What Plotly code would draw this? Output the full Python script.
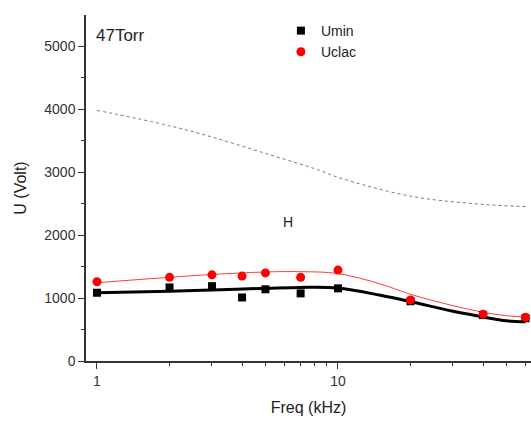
import plotly.graph_objects as go
import numpy as np

# Measured data
freq = [1, 2, 3, 4, 5, 7, 10, 20, 40, 60]
umin = [1085, 1170, 1190, 1010, 1140, 1075, 1155, 950, 730, 680]
uclac = [1260, 1330, 1370, 1350, 1400, 1330, 1445, 970, 745, 695]

# Fitted curves
fit_freq = [1, 2, 3, 5, 7, 10, 15, 20, 30, 40, 50, 60]
umin_fit = [1085, 1110, 1130, 1155, 1170, 1160, 1045, 945, 790, 700, 640, 625]
uclac_fit = [1245, 1330, 1375, 1415, 1420, 1390, 1225, 1060, 880, 775, 720, 700]

# Dotted reference curve
ref_freq = [1, 2, 3, 5, 8.4, 10, 20, 40, 60]
ref_u = [3985, 3740, 3560, 3300, 3030, 2920, 2620, 2490, 2455]

font = "Arial, Liberation Sans, sans-serif"

fig = go.Figure()
fig.add_trace(go.Scatter(x=ref_freq, y=ref_u, mode="lines", line=dict(color="#777777", width=1, dash="dot", shape="spline"), showlegend=False))
fig.add_trace(go.Scatter(x=fit_freq, y=umin_fit, mode="lines", line=dict(color="black", width=3, shape="spline"), showlegend=False))
fig.add_trace(go.Scatter(x=fit_freq, y=uclac_fit, mode="lines", line=dict(color="#ff3b3b", width=1, shape="spline"), showlegend=False))
fig.add_trace(go.Scatter(x=freq, y=umin, mode="markers", name="Umin", cliponaxis=False, marker=dict(symbol="square", color="black", size=8)))
fig.add_trace(go.Scatter(x=freq, y=uclac, mode="markers", name="Uclac", cliponaxis=False, marker=dict(symbol="circle", color="#ff0000", size=9)))

fig.add_annotation(x=np.log10(6.2), y=2210, text="H", showarrow=False, font=dict(family=font, size=14, color="#222"))
fig.add_annotation(xref="paper", yref="paper", x=0.018, y=0.975, xanchor="left", yanchor="top", text="47Torr", showarrow=False, font=dict(family=font, size=17, color="#222"))

fig.update_layout(
    width=531, height=423,
    margin=dict(l=86, r=0, t=15, b=62),
    plot_bgcolor="white", paper_bgcolor="white",
    font=dict(family=font, size=13, color="#333"),
    legend=dict(x=0.438, y=1.0, xanchor="left", yanchor="top", bgcolor="rgba(0,0,0,0)", font=dict(size=14, color="#222"), tracegroupgap=0),
)
fig.update_xaxes(type="log", range=[-0.0456, 1.801], showgrid=False, zeroline=False,
                 showline=True, linecolor="#333", linewidth=1.5,
                 ticks="outside", ticklen=6, tickcolor="#333", tickvals=[1, 10], ticktext=["1", "10"],
                 minor=dict(ticks="outside", ticklen=3, tickcolor="#333", tickvals=[2,3,4,5,6,7,8,9,20,30,40,50,60]),
                 title=dict(text="Freq (kHz)", font=dict(size=16, color="#222"), standoff=14),
                 tickfont=dict(size=14, color="#333"))
fig.update_yaxes(range=[0, 5500], showgrid=False, zeroline=False,
                 showline=True, linecolor="#333", linewidth=1.5,
                 ticks="outside", ticklen=6, tickcolor="#333", tickvals=[0, 1000, 2000, 3000, 4000, 5000],
                 minor=dict(ticks="outside", ticklen=3, tickcolor="#333", tickvals=[500, 1500, 2500, 3500, 4500]),
                 title=dict(text="U (Volt)", font=dict(size=16, color="#222"), standoff=14),
                 tickfont=dict(size=14, color="#333"))

fig.write_html("out.html", config={"displayModeBar": False},
               post_script="document.body.style.margin='0';document.body.style.overflow='hidden';")
